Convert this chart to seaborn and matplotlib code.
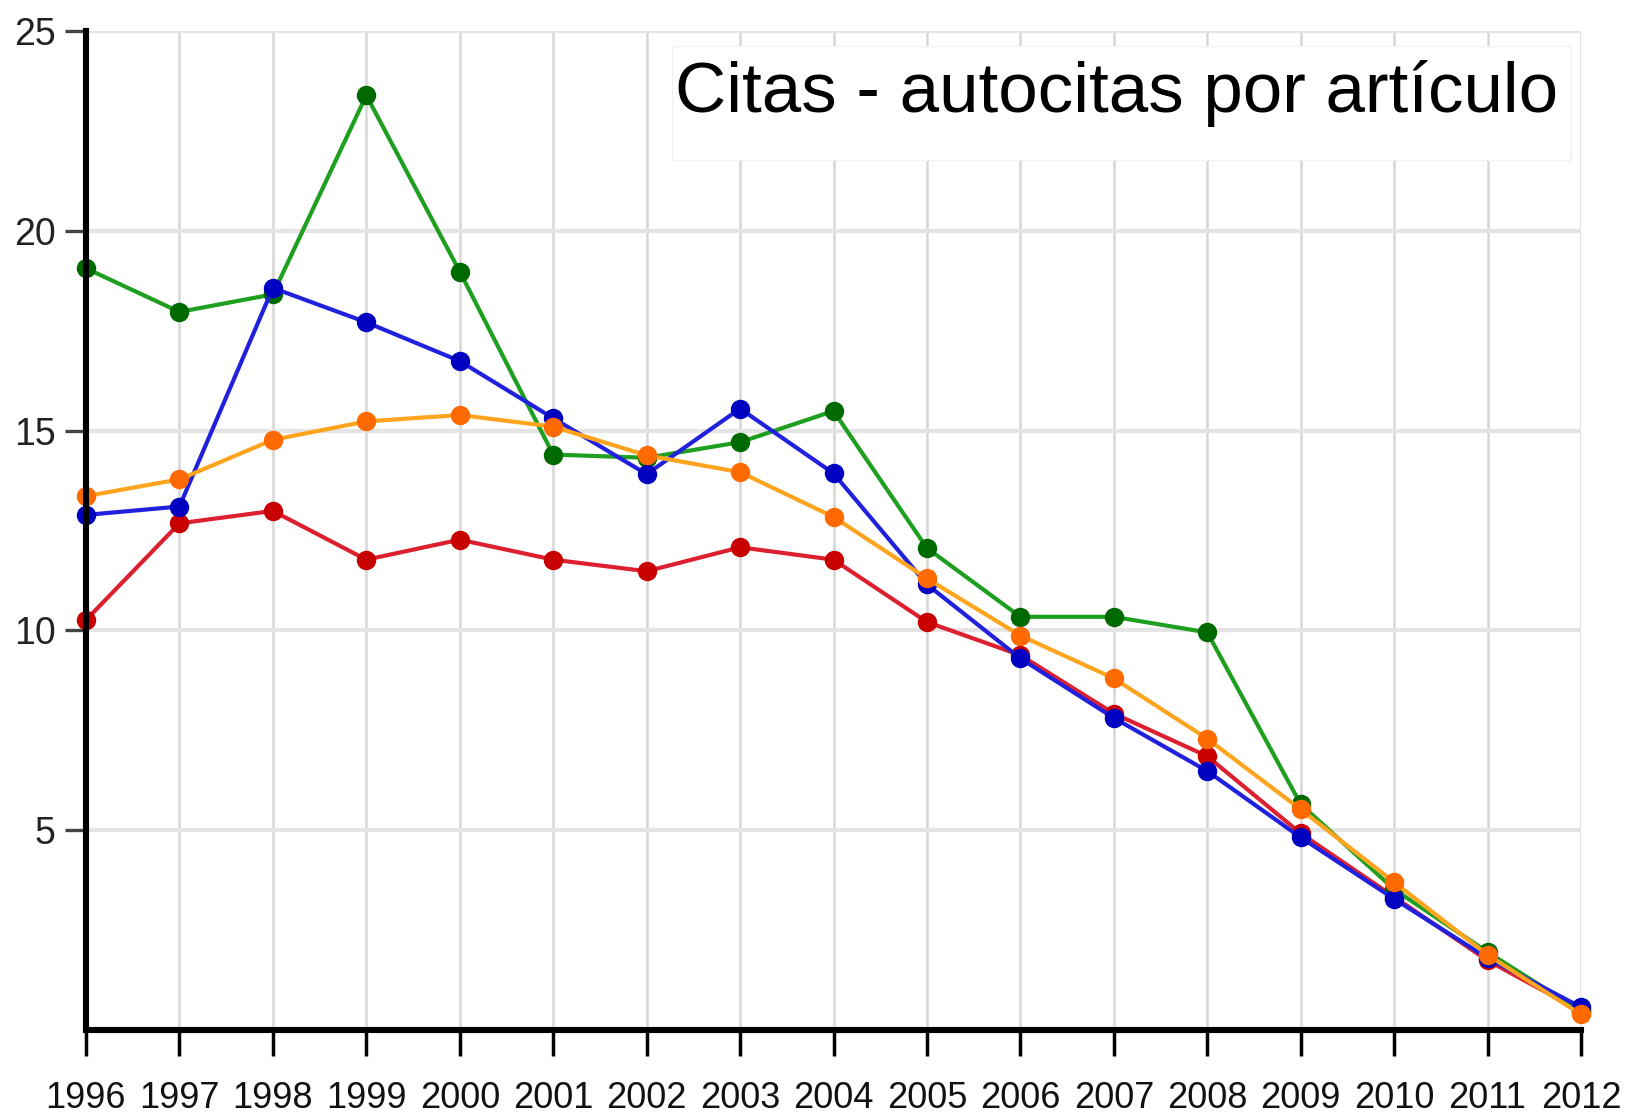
import pandas as pd
import matplotlib.pyplot as plt
import matplotlib.patches as mpatches
import seaborn as sns

# Values
years = list(range(1996, 2013))
green = [19.06, 17.97, 18.41, 23.39, 18.98, 14.40, 14.32, 14.71, 15.49, 12.06,
         10.34, 10.34, 9.95, 5.65, 3.52, 1.95, 0.47]
blue = [12.89, 13.10, 18.57, 17.71, 16.74, 15.31, 13.91, 15.55, 13.93, 11.15,
        9.30, 7.81, 6.48, 4.82, 3.28, 1.80, 0.57]
orange = [13.36, 13.78, 14.77, 15.23, 15.39, 15.10, 14.38, 13.96, 12.84, 11.30,
          9.87, 8.80, 7.29, 5.52, 3.70, 1.88, 0.39]
red = [10.26, 12.68, 12.99, 11.77, 12.27, 11.77, 11.48, 12.08, 11.77, 10.21,
       9.38, 7.92, 6.85, 4.92, 3.33, 1.74, 0.47]
y_ticks = [5, 10, 15, 20, 25]
title = 'Citas - autocitas por artículo'

# Build a long table for seaborn
series = {'red': red, 'green': green, 'blue': blue, 'orange': orange}
df = pd.DataFrame([(name, yr, v) for name, vals in series.items()
                   for yr, v in zip(years, vals)],
                  columns=['serie', 'year', 'value'])

# line colour, marker colour
styles = {
    'red': ('#dd2030', '#c80000'),
    'green': ('#1f9f1f', '#006a00'),
    'blue': ('#2020dd', '#0000c0'),
    'orange': ('#ffa41e', '#ff6a00'),
}

sns.set_style('white')
plt.rcParams['font.family'] = ['Liberation Sans', 'DejaVu Sans']

fig = plt.figure(figsize=(16.32, 11.18), dpi=100)
ax = fig.add_axes([86 / 1632, 1 - 1030 / 1118, 1495 / 1632, 999 / 1118])

for name in series:
    line_c, mark_c = styles[name]
    sns.lineplot(data=df[df['serie'] == name], x='year', y='value', ax=ax,
                 color=line_c, linewidth=3.0, marker='o', markersize=14,
                 markerfacecolor=mark_c, markeredgecolor=mark_c,
                 markeredgewidth=0, zorder=3)
for ln in ax.lines:
    ln.set_clip_on(False)

ax.set_xlim(1996, 2012)
ax.set_ylim(0, 25)
ax.set_xticks(years)
ax.set_yticks(y_ticks)
ax.set_xlabel('')
ax.set_ylabel('')

# grid
ax.yaxis.grid(True, color='#e4e4e4', linewidth=3)
ax.xaxis.grid(True, color='#d6d6d6', linewidth=1.8)
ax.set_axisbelow(True)

for side in ['top', 'right']:
    ax.spines[side].set_visible(False)
for side in ['left', 'bottom']:
    ax.spines[side].set_color('black')
    ax.spines[side].set_linewidth(4.4)
    ax.spines[side].set_zorder(4)

ax.tick_params(axis='x', bottom=True, direction='out', length=19, width=2.5,
               color='black', pad=18, labelsize=26, labelcolor='#111111')
ax.tick_params(axis='y', left=True, direction='out', length=15, width=2.4,
               color='#444444', pad=7, labelsize=27, labelcolor='#222222')

# title box
box = mpatches.Rectangle((672 / 1632, 1 - 160 / 1118), 899 / 1632, 114 / 1118,
                         transform=fig.transFigure, facecolor='white',
                         edgecolor='#f0f0f6', linewidth=1, zorder=2.5)
ax.add_patch(box)
fig.text(1558 / 1632, 1 - 112 / 1118, title, ha='right', va='baseline',
         fontsize=51, color='black', zorder=5)

plt.savefig('out.png', dpi=100)
